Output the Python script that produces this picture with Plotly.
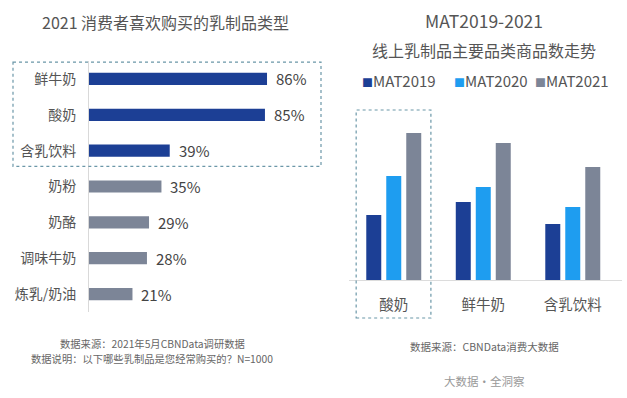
import plotly.graph_objects as go

# ---- data ----
left_title = "2021 消费者喜欢购买的乳制品类型"
left_categories = ["鲜牛奶", "酸奶", "含乳饮料", "奶粉", "奶酪", "调味牛奶", "炼乳/奶油"]
left_values = [86, 85, 39, 35, 29, 28, 21]
left_highlight_count = 3

right_title1 = "MAT2019-2021"
right_title2 = "线上乳制品主要品类商品数走势"
right_categories = ["酸奶", "鲜牛奶", "含乳饮料"]
series_names = ["MAT2019", "MAT2020", "MAT2021"]
mat2019 = [65, 78, 56]
mat2020 = [104, 93, 73]
mat2021 = [147, 137, 113]

left_notes = ["数据来源：2021年5月CBNData调研数据", "数据说明：以下哪些乳制品是您经常购买的？N=1000"]
right_note = "数据来源：CBNData消费大数据"
slogan = "大数据·全洞察"

# ---- styles ----
W, H = 627, 398
FONT = "Noto Sans CJK SC"
DARK = "#1c3f95"
LIGHT = "#1e9df0"
GRAY = "#7c8597"
series_colors = [DARK, LIGHT, GRAY]
TXT = "#555555"

def px(x):
    return x / W

def py(y):
    return 1 - y / H

fig = go.Figure()

# left horizontal bars
left_colors = [DARK if i < left_highlight_count else GRAY for i in range(len(left_categories))]
fig.add_trace(go.Bar(
    x=left_values, y=left_categories, orientation="h",
    marker=dict(color=left_colors, line=dict(width=0)),
    width=0.34, xaxis="x", yaxis="y", showlegend=False, hoverinfo="skip",
))

# right grouped bars
for name, vals, col in zip(series_names, [mat2019, mat2020, mat2021], series_colors):
    fig.add_trace(go.Bar(
        x=right_categories, y=vals, name=name,
        marker=dict(color=col, line=dict(width=0)),
        xaxis="x2", yaxis="y2", showlegend=False, hoverinfo="skip",
    ))

annotations = []
# value labels on left bars
for c, v in zip(left_categories, left_values):
    annotations.append(dict(
        x=v, y=c, xref="x", yref="y", text=f"{v}%", showarrow=False,
        xanchor="left", yanchor="middle", xshift=7,
        font=dict(family=FONT, size=15, color="#444444"),
    ))

# titles
annotations.append(dict(x=px(166), y=py(22), xref="paper", yref="paper", text=left_title,
                        showarrow=False, xanchor="center", yanchor="middle",
                        font=dict(family=FONT, size=16, color=TXT)))
annotations.append(dict(x=px(484), y=py(21), xref="paper", yref="paper", text=right_title1,
                        showarrow=False, xanchor="center", yanchor="middle",
                        font=dict(family=FONT, size=17.5, color=TXT)))
annotations.append(dict(x=px(484), y=py(50), xref="paper", yref="paper", text=right_title2,
                        showarrow=False, xanchor="center", yanchor="middle",
                        font=dict(family=FONT, size=16, color=TXT)))

# legend (square + name)
legend_x = [360, 452, 533]
for name, col, lx in zip(series_names, series_colors, legend_x):
    annotations.append(dict(
        x=px(lx), y=py(80), xref="paper", yref="paper",
        text=f"<span style='color:{col};font-size:11px'>■</span>{name}", showarrow=False,
        xanchor="left", yanchor="middle",
        font=dict(family=FONT, size=15, color=TXT),
    ))

# notes
for i, t in enumerate(left_notes):
    annotations.append(dict(x=px(152), y=py(343 + 15 * i), xref="paper", yref="paper", text=t,
                            showarrow=False, xanchor="center", yanchor="middle",
                            font=dict(family=FONT, size=10.3, color="#666666")))
annotations.append(dict(x=px(484), y=py(346), xref="paper", yref="paper", text=right_note,
                        showarrow=False, xanchor="center", yanchor="middle",
                        font=dict(family=FONT, size=10.5, color="#666666")))
annotations.append(dict(x=px(484), y=py(381), xref="paper", yref="paper", text=slogan,
                        showarrow=False, xanchor="center", yanchor="middle",
                        font=dict(family=FONT, size=11.5, color="#999999")))

shapes = [
    # left highlight box around top categories
    dict(type="rect", xref="paper", yref="y", x0=px(13), x1=px(321),
         y0=-0.47, y1=left_highlight_count - 0.56,
         line=dict(color="#6b97a8", width=1.2, dash="dot")),
    # right highlight box around first category
    dict(type="rect", xref="x2", yref="paper", x0=-0.42, x1=0.415,
         y0=py(318), y1=py(110),
         line=dict(color="#6b97a8", width=1.2, dash="dot")),
]

fig.update_layout(
    width=W, height=H,
    margin=dict(l=0, r=0, t=0, b=0),
    paper_bgcolor="white", plot_bgcolor="white",
    barmode="group", bargap=0.33, bargroupgap=0.25,
    font=dict(family=FONT, color=TXT),
    annotations=annotations, shapes=shapes,
    xaxis=dict(domain=[px(89), px(296)], range=[0, 100], visible=False, fixedrange=True),
    yaxis=dict(domain=[py(312), py(61)], range=[6.5, -0.5], anchor="x",
               showline=True, linecolor="#d9d9d9", linewidth=1,
               showgrid=False, zeroline=False, ticks="", ticklabelstandoff=9,
               tickfont=dict(family=FONT, size=14, color=TXT)),
    xaxis2=dict(domain=[px(349), px(622)], range=[-0.5, 2.55], anchor="y2",
                showline=True, linecolor="#dcdcdc", linewidth=1,
                showgrid=False, zeroline=False, ticks="", ticklabelstandoff=12,
                tickfont=dict(family=FONT, size=14.5, color=TXT)),
    yaxis2=dict(domain=[py(280), py(100)], range=[0, 180], visible=False,
                anchor="x2", fixedrange=True),
)

fig.write_html("out.html",
               config={"displayModeBar": False, "staticPlot": True},
               post_script="document.body.style.margin='0';document.body.style.overflow='hidden';")
